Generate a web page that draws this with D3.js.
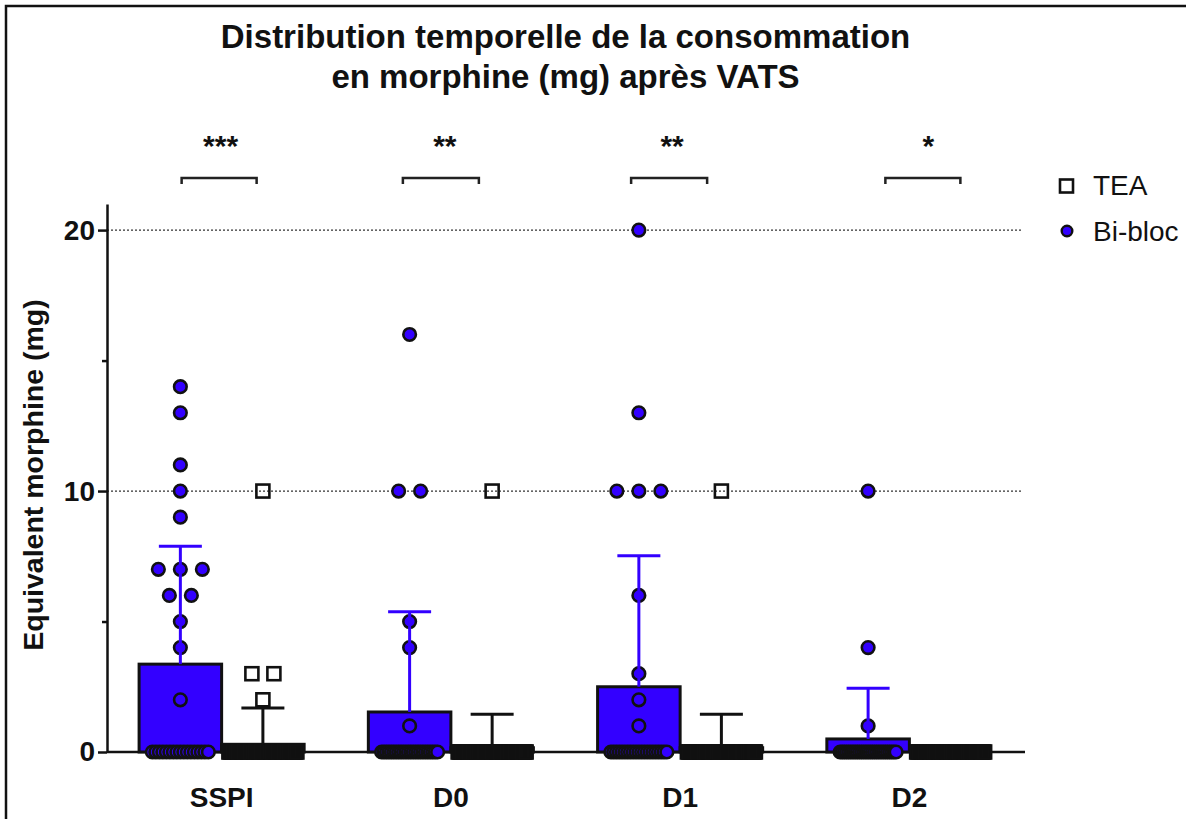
<!DOCTYPE html>
<html>
<head>
<meta charset="utf-8">
<script src="https://d3js.org/d3.v7.min.js"></script>
<style>
body { margin: 0; background: #fff; }
svg { display: block; }
text { font-family: "Liberation Sans", Arial, Helvetica, sans-serif; }
</style>
</head>
<body>
<div id="chart"></div>
<script>
var w = 1186;
var h = 819;

var groups = ["SSPI", "D0", "D1", "D2"];
var series = ["Bi-bloc", "TEA"];
var stars = ["***", "**", "**", "*"];
var yTicks = [0, 10, 20];
var yMinorTicks = [5, 15];

// morphine equivalent (mg) per patient, Bi-bloc (n = 30)
var biblocSSPI = [14, 13, 11, 10, 9, 7, 7, 7, 6, 6, 5, 4, 2,
    0, 0, 0, 0, 0, 0, 0, 0, 0, 0,
    0, 0, 0, 0, 0, 0, 0];
var biblocD0 = [16, 10, 10, 5, 4, 1,
    0, 0, 0, 0, 0, 0, 0, 0, 0, 0,
    0, 0, 0, 0, 0, 0, 0, 0, 0, 0,
    0, 0, 0, 0];
var biblocD1 = [20, 13, 10, 10, 10, 6, 3, 2, 1,
    0, 0, 0, 0, 0, 0, 0, 0, 0, 0,
    0, 0, 0, 0, 0, 0, 0, 0, 0, 0,
    0];
var biblocD2 = [10, 4, 1,
    0, 0, 0, 0, 0, 0, 0, 0, 0, 0,
    0, 0, 0, 0, 0, 0, 0, 0, 0, 0,
    0, 0, 0, 0, 0, 0, 0];

// morphine equivalent (mg) per patient, TEA (n = 61)
var teaSSPI = [10, 3, 3, 2,
    0, 0, 0, 0, 0, 0, 0, 0, 0, 0,
    0, 0, 0, 0, 0, 0, 0, 0, 0, 0,
    0, 0, 0, 0, 0, 0, 0, 0, 0, 0,
    0, 0, 0, 0, 0, 0, 0, 0, 0, 0,
    0, 0, 0, 0, 0, 0, 0, 0, 0, 0,
    0, 0, 0, 0, 0, 0, 0];
var teaD0 = [10,
    0, 0, 0, 0, 0, 0, 0, 0, 0, 0,
    0, 0, 0, 0, 0, 0, 0, 0, 0, 0,
    0, 0, 0, 0, 0, 0, 0, 0, 0, 0,
    0, 0, 0, 0, 0, 0, 0, 0, 0, 0,
    0, 0, 0, 0, 0, 0, 0, 0, 0, 0,
    0, 0, 0, 0, 0, 0, 0, 0, 0, 0];
var teaD1 = [10,
    0, 0, 0, 0, 0, 0, 0, 0, 0, 0,
    0, 0, 0, 0, 0, 0, 0, 0, 0, 0,
    0, 0, 0, 0, 0, 0, 0, 0, 0, 0,
    0, 0, 0, 0, 0, 0, 0, 0, 0, 0,
    0, 0, 0, 0, 0, 0, 0, 0, 0, 0,
    0, 0, 0, 0, 0, 0, 0, 0, 0, 0];
var teaD2 = [0,
    0, 0, 0, 0, 0, 0, 0, 0, 0, 0,
    0, 0, 0, 0, 0, 0, 0, 0, 0, 0,
    0, 0, 0, 0, 0, 0, 0, 0, 0, 0,
    0, 0, 0, 0, 0, 0, 0, 0, 0, 0,
    0, 0, 0, 0, 0, 0, 0, 0, 0, 0,
    0, 0, 0, 0, 0, 0, 0, 0, 0, 0];

var values = {
    "Bi-bloc": [biblocSSPI, biblocD0, biblocD1, biblocD2],
    "TEA": [teaSSPI, teaD0, teaD1, teaD2]
};

// layout only
var blue = "#3300ff";
var margin = {left: 107, right: 162, top: 204, bottom: 67};
var bracketOffset = [[-40, 35, -1], [-48, 28, -6], [-49, 27, -8], [-24, 51, 19]];
var spread = {"Bi-bloc": 56, "TEA": 68};
var dotGap = 22;

var svg = d3.select("#chart")
    .append("svg")
    .attr("width", w)
    .attr("height", h);

var x = d3.scaleBand()
    .domain(groups)
    .range([margin.left, w - margin.right])
    .paddingInner(0.28)
    .paddingOuter(0.14);

var xSub = d3.scaleBand()
    .domain(series)
    .range([0, x.bandwidth()]);

var y = d3.scaleLinear()
    .domain([0, 21])
    .range([h - margin.bottom, margin.top]);

var x0 = margin.left;
var x1 = w - margin.right;

// frame of the cropped figure
svg.append("path")
    .attr("d", "M6," + h + "V6H" + w)
    .attr("fill", "none")
    .attr("stroke", "#111")
    .attr("stroke-width", 2.5);

// title
var title = svg.append("text")
    .attr("text-anchor", "middle")
    .attr("font-size", "33px")
    .attr("font-weight", "bold")
    .attr("fill", "#111");
title.append("tspan").attr("x", (x0 + x1) / 2).attr("y", 48).text("Distribution temporelle de la consommation");
title.append("tspan").attr("x", (x0 + x1) / 2).attr("y", 88).text("en morphine (mg) après VATS");

// dotted grid
svg.selectAll(".grid")
    .data([10, 20])
    .enter()
    .append("line")
    .attr("x1", x0)
    .attr("x2", x1 - 2)
    .attr("y1", function (d) { return y(d); })
    .attr("y2", function (d) { return y(d); })
    .attr("stroke", "#333")
    .attr("stroke-width", 1.2)
    .attr("stroke-dasharray", "2,2");

// y axis
var yAxis = svg.append("g")
    .attr("transform", "translate(" + x0 + ",0)")
    .call(d3.axisLeft(y).tickValues(yTicks).tickSize(9).tickSizeOuter(0).tickPadding(3));
yAxis.append("g")
    .call(d3.axisLeft(y).tickValues(yMinorTicks).tickSize(5).tickFormat(""))
    .select(".domain").remove();
yAxis.selectAll("path, line")
    .attr("stroke", "#111")
    .attr("stroke-width", 2.5);
yAxis.selectAll("text")
    .attr("font-size", "28px")
    .attr("font-weight", "bold")
    .attr("fill", "#111")
    .attr("font-family", "Liberation Sans, Arial, sans-serif");

svg.append("text")
    .attr("transform", "translate(43," + 475 + ") rotate(-90)")
    .attr("text-anchor", "middle")
    .attr("font-size", "28.5px")
    .attr("font-weight", "bold")
    .attr("fill", "#111")
    .text("Equivalent morphine (mg)");

// x axis
var xAxis = svg.append("g")
    .attr("transform", "translate(0," + y(0) + ")")
    .call(d3.axisBottom(x).tickSize(0).tickSizeOuter(0).tickPadding(35));
xAxis.select(".domain")
    .attr("stroke", "#111")
    .attr("stroke-width", 2.5)
    .attr("d", "M" + x0 + ",0H" + (x1 + 1));
xAxis.selectAll("text")
    .attr("font-size", "28px")
    .attr("font-weight", "bold")
    .attr("fill", "#111")
    .attr("font-family", "Liberation Sans, Arial, sans-serif");

// summary per group and series
var summary = [];
groups.forEach(function (g, i) {
    series.forEach(function (s) {
        var arr = values[s][i];
        summary.push({
            group: g,
            series: s,
            mean: d3.mean(arr),
            sd: d3.deviation(arr) || 0,
            cx: x(g) + xSub(s) + xSub.bandwidth() / 2
        });
    });
});

// bars
svg.selectAll(".bar")
    .data(summary)
    .enter()
    .append("rect")
    .attr("x", function (d) { return x(d.group) + xSub(d.series); })
    .attr("y", function (d) { return y(d.mean); })
    .attr("width", xSub.bandwidth())
    .attr("height", function (d) { return y(0) - y(d.mean); })
    .attr("fill", function (d) { return d.series === "Bi-bloc" ? blue : "#fff"; })
    .attr("stroke", "#111")
    .attr("stroke-width", 3);

// individual points, spread sideways when values tie
var points = [];
summary.forEach(function (d) {
    var arr = values[d.series][groups.indexOf(d.group)];
    d3.group(arr, function (v) { return v; }).forEach(function (list, v) {
        var k = list.length;
        var gap = k > 1 ? Math.min(dotGap, spread[d.series] / (k - 1)) : 0;
        list.forEach(function (_, j) {
            points.push({series: d.series, value: v, px: d.cx + (j - (k - 1) / 2) * gap});
        });
    });
});

svg.selectAll(".dot")
    .data(points.filter(function (d) { return d.series === "Bi-bloc"; }))
    .enter()
    .append("circle")
    .attr("cx", function (d) { return d.px; })
    .attr("cy", function (d) { return y(d.value); })
    .attr("r", 6.3)
    .attr("fill", blue)
    .attr("stroke", "#111")
    .attr("stroke-width", 2.6);

svg.selectAll(".sq")
    .data(points.filter(function (d) { return d.series === "TEA"; }))
    .enter()
    .append("rect")
    .attr("x", function (d) { return d.px - 6.5; })
    .attr("y", function (d) { return y(d.value) - 6.5; })
    .attr("width", 13)
    .attr("height", 13)
    .attr("fill", "none")
    .attr("stroke", "#111")
    .attr("stroke-width", 2.6);

// error bars (mean + SD)
var err = svg.selectAll(".err")
    .data(summary.filter(function (d) { return d.sd > 0; }))
    .enter()
    .append("g")
    .attr("stroke", function (d) { return d.series === "Bi-bloc" ? blue : "#111"; })
    .attr("stroke-width", 3);
err.append("line")
    .attr("x1", function (d) { return d.cx; })
    .attr("x2", function (d) { return d.cx; })
    .attr("y1", function (d) { return y(d.mean); })
    .attr("y2", function (d) { return y(d.mean + d.sd); });
err.append("line")
    .attr("x1", function (d) { return d.cx - 21.5; })
    .attr("x2", function (d) { return d.cx + 21.5; })
    .attr("y1", function (d) { return y(d.mean + d.sd); })
    .attr("y2", function (d) { return y(d.mean + d.sd); });

// significance brackets
var sig = svg.selectAll(".sig")
    .data(groups)
    .enter()
    .append("g");
sig.append("path")
    .attr("d", function (g, i) {
        var c = x(g) + x.bandwidth() / 2;
        var a = c + bracketOffset[i][0];
        var b = c + bracketOffset[i][1];
        return "M" + a + ",184V178H" + b + "V184";
    })
    .attr("fill", "none")
    .attr("stroke", "#222")
    .attr("stroke-width", 2.5);
sig.append("text")
    .attr("x", function (g, i) { return x(g) + x.bandwidth() / 2 + bracketOffset[i][2]; })
    .attr("y", 156)
    .attr("text-anchor", "middle")
    .attr("font-size", "30px")
    .attr("font-weight", "bold")
    .attr("fill", "#111")
    .text(function (g, i) { return stars[i]; });

// legend
var legend = svg.append("g");
legend.append("rect")
    .attr("x", 1060)
    .attr("y", 179.5)
    .attr("width", 13)
    .attr("height", 13)
    .attr("fill", "none")
    .attr("stroke", "#111")
    .attr("stroke-width", 2.6);
legend.append("circle")
    .attr("cx", 1067)
    .attr("cy", 231)
    .attr("r", 5.3)
    .attr("fill", blue)
    .attr("stroke", "#111")
    .attr("stroke-width", 2.4);
legend.selectAll(".lab")
    .data(["TEA", "Bi-bloc"])
    .enter()
    .append("text")
    .attr("x", 1093)
    .attr("y", function (d, i) { return 195 + i * 46; })
    .attr("font-size", "28px")
    .attr("fill", "#111")
    .text(function (d) { return d; });
</script>
</body>
</html>
